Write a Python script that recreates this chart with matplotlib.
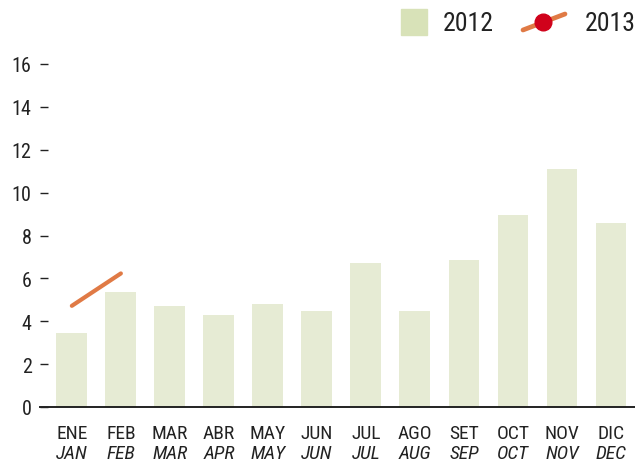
import matplotlib
matplotlib.use('Agg')
import matplotlib.pyplot as plt
from matplotlib.lines import Line2D
from matplotlib.patches import Rectangle
import matplotlib.transforms as mtransforms

plt.rcParams['font.family'] = ['Roboto Condensed', 'DejaVu Sans']

months_es = ['ENE', 'FEB', 'MAR', 'ABR', 'MAY', 'JUN',
             'JUL', 'AGO', 'SET', 'OCT', 'NOV', 'DIC']
months_en = ['JAN', 'FEB', 'MAR', 'APR', 'MAY', 'JUN',
             'JUL', 'AUG', 'SEP', 'OCT', 'NOV', 'DEC']
values_2012 = [3.45, 5.35, 4.7, 4.3, 4.8, 4.5, 6.7, 4.5, 6.85, 8.95, 11.1, 8.6]
values_2013 = [4.72, 6.23]

BAR_COLOR = '#e6ebd4'
LEGEND_BAR = '#d8e2b8'
LINE_COLOR = '#e07a45'
DOT_COLOR = '#d0021b'
TEXT = '#222222'

fig = plt.figure(figsize=(6.35, 4.64), dpi=100)
ax = fig.add_axes([40 / 635, 1 - 408 / 464, 595 / 635, 343 / 464])

x = list(range(len(months_es)))
ax.bar(x, values_2012, width=0.63, color=BAR_COLOR, zorder=1)
ax.plot(x[:len(values_2013)], values_2013, color=LINE_COLOR, lw=3.0,
        solid_capstyle='round', zorder=3)

ax.set_xlim(-0.65, 11.49)
ax.set_ylim(0, 16)
ax.set_yticks(range(0, 17, 2))
ax.tick_params(axis='y', direction='in', length=6, width=1, color=TEXT,
               labelsize=14.5, labelcolor=TEXT, pad=6)
ax.set_xticks([])
for s in ['left', 'right', 'top']:
    ax.spines[s].set_visible(False)
ax.spines['bottom'].set_linewidth(1.4)
ax.spines['bottom'].set_color(TEXT)

# two-line month labels: spanish on top, english italic below
trans = mtransforms.blended_transform_factory(ax.transData, ax.transAxes)
for i, (es, en) in enumerate(zip(months_es, months_en)):
    ax.text(i, -26 / 343, es, transform=trans, ha='center', va='center',
            fontsize=14, color=TEXT)
    ax.text(i, -46 / 343, en, transform=trans, ha='center', va='center',
            fontsize=14, color=TEXT, style='italic')

# legend drawn by hand, in figure pixels
W, H = 635, 464
fig.add_artist(Rectangle((401 / W, 1 - 36 / H), 26 / W, 26 / H,
                         transform=fig.transFigure, color=LEGEND_BAR))
fig.text(443 / W, 1 - 24 / H, '2012', fontsize=18.5, color=TEXT,
         ha='left', va='center')
fig.add_artist(Line2D([523 / W, 565 / W], [1 - 31 / H, 1 - 15 / H],
                      transform=fig.transFigure, color=LINE_COLOR, lw=3.4,
                      solid_capstyle='round'))
fig.add_artist(Line2D([543 / W], [1 - 23 / H], transform=fig.transFigure,
                      marker='o', markersize=12, color=DOT_COLOR, lw=0))
fig.text(585 / W, 1 - 24 / H, '2013', fontsize=18.5, color=TEXT,
         ha='left', va='center')

fig.savefig('out.png', dpi=100)
